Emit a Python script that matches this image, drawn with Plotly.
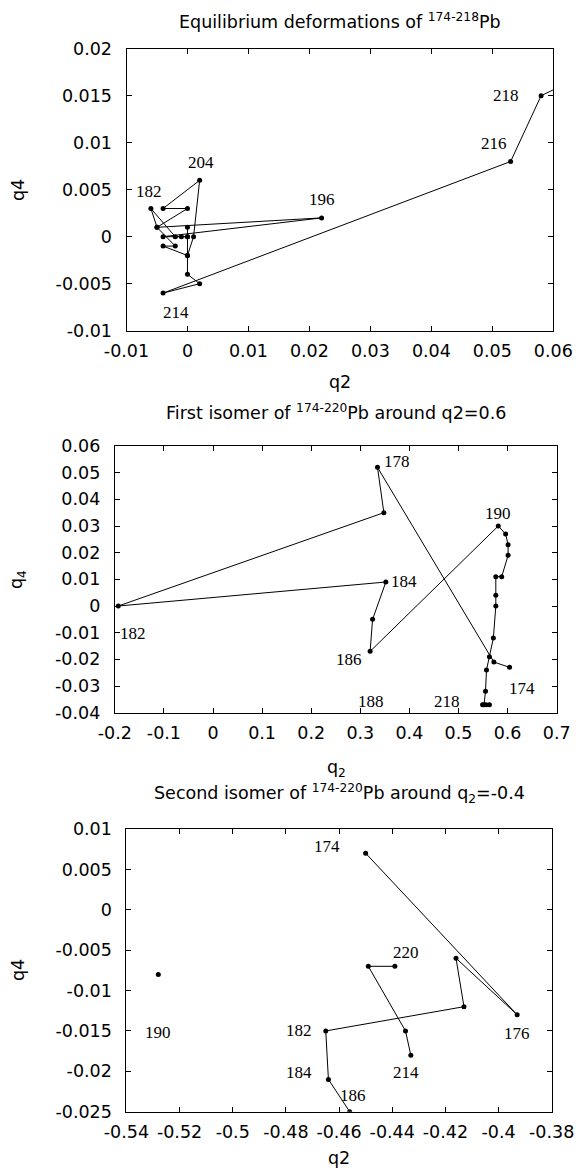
import plotly.graph_objects as go

# ---------------- data ----------------
# Panel 1: equilibrium deformations, isotopes 174..220 (step 2)
iso1 = list(range(174, 222, 2))
q2_eq = [0.0, 0.0, -0.001, -0.002, -0.006, -0.005, -0.002, -0.004, 0.0, 0.0, -0.004,
         0.022, -0.005, 0.0, -0.004, 0.002, 0.001, 0.0, 0.0, 0.002, -0.004, 0.053, 0.058, 0.066]
q4_eq = [0.001, 0.0, 0.0, 0.0, 0.003, 0.001, -0.001, -0.001, -0.002, 0.0, 0.0,
         0.002, 0.001, 0.003, 0.003, 0.006, 0.0, -0.002, -0.004, -0.005, -0.006, 0.008, 0.015, 0.0175]
lab1 = [182, 196, 204, 214, 216, 218]

# Panel 2: first isomer around q2=0.6, isotopes 174..220
iso2 = list(range(174, 222, 2))
q2_iso1 = [0.604, 0.572, 0.335, 0.348, -0.193, 0.352, 0.325, 0.32, 0.581, 0.596, 0.601, 0.601,
           0.588, 0.576, 0.576, 0.576, 0.571, 0.563, 0.557, 0.555, 0.552, 0.549, 0.556, 0.563]
q4_iso1 = [-0.023, -0.021, 0.052, 0.035, 0.0, 0.009, -0.005, -0.017, 0.030, 0.027, 0.023, 0.019,
           0.011, 0.011, 0.004, 0.0, -0.012, -0.019, -0.024, -0.032, -0.037, -0.037, -0.037, -0.037]
lab2 = [174, 178, 182, 184, 186, 188, 190, 218]

# Panel 3: second isomer around q2=-0.4 (None = no isomer)
iso3 = list(range(174, 222, 2))
q2_iso2 = [-0.45, -0.393, -0.416, -0.413, -0.465, -0.464, -0.456, None, -0.528, None, None, None,
           None, None, None, None, None, None, None, None, -0.433, -0.435, -0.449, -0.439]
q4_iso2 = [0.007, -0.013, -0.006, -0.012, -0.015, -0.021, -0.025, None, -0.008, None, None, None,
           None, None, None, None, None, None, None, None, -0.018, -0.015, -0.007, -0.007]
lab3 = [174, 176, 182, 184, 186, 190, 214, 220]

# tick labels
x1_ticks = [-0.01, 0.0, 0.01, 0.02, 0.03, 0.04, 0.05, 0.06]
x1_text = ["-0.01", "0", "0.01", "0.02", "0.03", "0.04", "0.05", "0.06"]
y1_ticks = [-0.01, -0.005, 0.0, 0.005, 0.01, 0.015, 0.02]
y1_text = ["-0.01", "-0.005", "0", "0.005", "0.01", "0.015", "0.02"]
x2_ticks = [-0.2, -0.1, 0.0, 0.1, 0.2, 0.3, 0.4, 0.5, 0.6, 0.7]
x2_text = ["-0.2", "-0.1", "0", "0.1", "0.2", "0.3", "0.4", "0.5", "0.6", "0.7"]
y2_ticks = [-0.04, -0.03, -0.02, -0.01, 0.0, 0.01, 0.02, 0.03, 0.04, 0.05, 0.06]
y2_text = ["-0.04", "-0.03", "-0.02", "-0.01", "0", "0.01", "0.02", "0.03", "0.04", "0.05", "0.06"]
x3_ticks = [-0.54, -0.52, -0.5, -0.48, -0.46, -0.44, -0.42, -0.4, -0.38]
x3_text = ["-0.54", "-0.52", "-0.5", "-0.48", "-0.46", "-0.44", "-0.42", "-0.4", "-0.38"]
y3_ticks = [-0.025, -0.02, -0.015, -0.01, -0.005, 0.0, 0.005, 0.01]
y3_text = ["-0.025", "-0.02", "-0.015", "-0.01", "-0.005", "0", "0.005", "0.01"]

# ---------------- layout helpers ----------------
W, H = 576, 1175
SANS = "DejaVu Sans, Verdana, sans-serif"
SERIF = "Liberation Serif, Times New Roman, serif"
FS = 17.5

def px_x(p):
    return p / W

def px_y(p):
    return 1 - p / H

# plot-area pixel boxes (left, right, top, bottom)
boxes = [(126.5, 553.3, 48.7, 330.7), (114.8, 556.7, 446.0, 712.7), (126.4, 551.7, 829.0, 1111.7)]

fig = go.Figure()

series = [(q2_eq, q4_eq), (q2_iso1, q4_iso1), (q2_iso2, q4_iso2)]
for i, (xs, ys) in enumerate(series):
    sfx = "" if i == 0 else str(i + 1)
    fig.add_trace(go.Scatter(
        x=xs, y=ys, mode="lines+markers", connectgaps=False,
        line=dict(color="black", width=1),
        marker=dict(color="black", size=5),
        xaxis="x" + sfx, yaxis="y" + sfx, showlegend=False, hoverinfo="skip"))

ranges = [((-0.01, 0.06), (-0.01, 0.02)), ((-0.2, 0.7), (-0.04, 0.06)), ((-0.54, -0.38), (-0.025, 0.01))]
ticks = [((x1_ticks, x1_text), (y1_ticks, y1_text)),
         ((x2_ticks, x2_text), (y2_ticks, y2_text)),
         ((x3_ticks, x3_text), (y3_ticks, y3_text))]

common = dict(showline=True, linecolor="black", linewidth=1, mirror="allticks",
              ticks="inside", ticklen=5, tickcolor="black", tickwidth=1,
              showgrid=False, zeroline=False, automargin=False,
              tickfont=dict(family=SANS, size=FS, color="black"),
              ticklabeloverflow="allow", fixedrange=True)

layout = {}
for i in range(3):
    l, r, t, b = boxes[i]
    sfx = "" if i == 0 else str(i + 1)
    (xr, yr) = ranges[i]
    (xt, xtt), (yt, ytt) = ticks[i]
    layout["xaxis" + sfx] = dict(common, domain=[px_x(l), px_x(r)], range=list(xr),
                                 tickvals=xt, ticktext=xtt, anchor="y" + sfx,
                                 ticklabelstandoff=4)
    layout["yaxis" + sfx] = dict(common, domain=[px_y(b), px_y(t)], range=list(yr),
                                 tickvals=yt, ticktext=ytt, anchor="x" + sfx,
                                 ticklabelstandoff=10)

fig.update_layout(template="none", width=W, height=H, margin=dict(l=0, r=0, t=0, b=0, pad=0),
                  paper_bgcolor="white", plot_bgcolor="white", hovermode=False, **layout)

anns = []
def paper_text(text, x, y, angle=0, size=FS):
    return dict(text=text, xref="paper", yref="paper", x=px_x(x), y=px_y(y),
                xanchor="center", yanchor="middle", showarrow=False, textangle=angle,
                font=dict(family=SANS, size=size, color="black"))

anns.append(paper_text("Equilibrium deformations of <sup>174-218</sup>Pb", 340, 21))
anns.append(paper_text("q2", 340, 382))
anns.append(paper_text("q4", 18, 190, angle=-90))
anns.append(paper_text("First isomer of <sup>174-220</sup>Pb around q2=0.6", 336, 412))
anns.append(paper_text("q<sub>2</sub>", 336, 768))
anns.append(paper_text("q<sub>4</sub>", 17, 580, angle=-90))
anns.append(paper_text("Second isomer of <sup>174-220</sup>Pb around q<sub>2</sub>=-0.4", 339, 793))
anns.append(paper_text("q2", 339, 1158))
anns.append(paper_text("q4", 18, 970, angle=-90))

# point labels: pixel offsets per isotope (styling)
off1 = {182: (-2, 17), 196: (0, 18), 204: (1, 18), 214: (13, -19), 216: (-17, 18), 218: (-35, 0)}
off2 = {174: (12, -21), 178: (20, 6), 182: (15, -27), 184: (18, 1), 186: (-24, -40),
        188: (1, -50), 190: (0, 13), 218: (-39, 3)}
off3 = {174: (-39, 7), 176: (0, -19), 182: (-27, 0), 184: (-29, 7), 186: (3, 16),
        190: (0, -58), 214: (-5, -17), 220: (11, 14)}

for i, (iso, labs, offs, (xs, ys)) in enumerate([(iso1, lab1, off1, series[0]),
                                                 (iso2, lab2, off2, series[1]),
                                                 (iso3, lab3, off3, series[2])]):
    sfx = "" if i == 0 else str(i + 1)
    for a in labs:
        k = iso.index(a)
        dx, dy = offs[a]
        anns.append(dict(text=str(a), x=xs[k], y=ys[k], xref="x" + sfx, yref="y" + sfx,
                         xshift=dx, yshift=dy, showarrow=False,
                         xanchor="center", yanchor="middle",
                         font=dict(family=SERIF, size=17, color="black")))

fig.update_layout(annotations=anns)
fig.write_html(
    "out.html",
    config={"displayModeBar": False, "staticPlot": True},
    post_script=("document.documentElement.style.margin='0';document.body.style.margin='0';"
                 "document.body.style.padding='0';document.documentElement.style.overflow='hidden';"
                 "document.body.style.overflow='hidden';"))
